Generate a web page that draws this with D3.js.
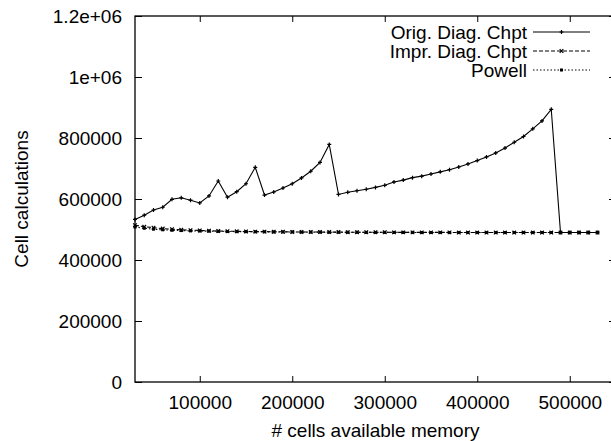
<!DOCTYPE html>
<html>
<head>
<meta charset="utf-8">
<script src="https://cdn.jsdelivr.net/npm/d3@7"></script>
<style>
  body { margin: 0; background: #fff; }
  svg { display: block; }
  text { font-family: "Liberation Sans", Arial, sans-serif; fill: #000; }
</style>
</head>
<body>
<div id="chart-area"></div>
<script>
// cells of available memory (x) for every run
const cells = [30000, 40000, 50000, 60000, 70000, 80000, 90000, 100000, 110000, 120000,
  130000, 140000, 150000, 160000, 170000, 180000, 190000, 200000, 210000, 220000,
  230000, 240000, 250000, 260000, 270000, 280000, 290000, 300000, 310000, 320000,
  330000, 340000, 350000, 360000, 370000, 380000, 390000, 400000, 410000, 420000,
  430000, 440000, 450000, 460000, 470000, 480000, 490000, 500000, 510000, 520000, 530000];

const origDiag = [533000, 547000, 564000, 573000, 599000, 604000, 596000, 587000, 610000, 659000,
  606000, 624000, 650000, 704000, 613000, 623000, 636000, 650000, 669000, 691000,
  720000, 779000, 615000, 622000, 627000, 632000, 638000, 645000, 656000, 662000,
  670000, 675000, 682000, 689000, 696000, 705000, 715000, 726000, 738000, 751000,
  767000, 786000, 805000, 830000, 856000, 894000, 490000, 490000, 490000, 490000, 490000];

const imprDiag = [514000, 509000, 506000, 503000, 501000, 499000, 498000, 497000, 496000, 495000,
  494500, 494000, 493500, 493000, 493000, 492500, 492500, 492000, 492000, 492000,
  491500, 491500, 491500, 491000, 491000, 491000, 491000, 491000, 490500, 490500,
  490500, 490500, 490500, 490500, 490500, 490000, 490000, 490000, 490000, 490000,
  490000, 490000, 490000, 490000, 490000, 490000, 490000, 490000, 490000, 490000, 490000];

const powell = [508000, 504000, 501000, 499000, 497500, 496500, 495500, 495000, 494500, 494000,
  493500, 493000, 493000, 492500, 492500, 492000, 492000, 492000, 491500, 491500,
  491500, 491000, 491000, 491000, 491000, 490500, 490500, 490500, 490500, 490500,
  490500, 490000, 490000, 490000, 490000, 490000, 490000, 490000, 490000, 490000,
  490000, 490000, 490000, 490000, 490000, 490000, 490000, 490000, 490000, 490000, 490000];

const seriesNames = ['Orig. Diag. Chpt', 'Impr. Diag. Chpt', 'Powell'];

const xTicks = [100000, 200000, 300000, 400000, 500000];
const yTicks = [0, 200000, 400000, 600000, 800000, 1000000, 1200000];
const yTickLabels = ['0', '200000', '400000', '600000', '800000', '1e+06', '1.2e+06'];

const W = 611, H = 441;
const MARGIN = { LEFT: 135, RIGHT: -5, TOP: 16, BOTTOM: 59 };
const WIDTH = W - MARGIN.LEFT - MARGIN.RIGHT;
const HEIGHT = H - MARGIN.TOP - MARGIN.BOTTOM;
const FONT = 19;

const svg = d3.select('#chart-area')
  .append('svg')
  .attr('width', W)
  .attr('height', H);

const g = svg.append('g')
  .attr('transform', `translate(${MARGIN.LEFT},${MARGIN.TOP})`);

const x = d3.scaleLinear().domain([30000, 550000]).range([0, WIDTH]);
const y = d3.scaleLinear().domain([0, 1200000]).range([HEIGHT, 0]);

// axes, gnuplot style: ticks point inwards, mirrored on top/right
const fmtY = d => yTickLabels[yTicks.indexOf(d)];

const styleAxis = sel => {
  sel.select('.domain').remove();
  sel.selectAll('line').attr('stroke', '#000').attr('stroke-width', 1);
  sel.selectAll('text').style('font-size', FONT + 'px').attr('fill', '#000');
};

g.append('g')
  .attr('transform', `translate(0,${HEIGHT})`)
  .call(d3.axisBottom(x).tickValues(xTicks).tickFormat(d3.format('d')).tickSize(-6).tickPadding(14))
  .call(styleAxis);

g.append('g')
  .call(d3.axisTop(x).tickValues(xTicks).tickFormat('').tickSize(-6))
  .call(styleAxis);

g.append('g')
  .call(d3.axisLeft(y).tickValues(yTicks).tickFormat(fmtY).tickSize(-7).tickPadding(13))
  .call(styleAxis);

g.append('g')
  .attr('transform', `translate(${WIDTH},0)`)
  .call(d3.axisRight(y).tickValues(yTicks).tickFormat('').tickSize(-7))
  .call(styleAxis);

// border
g.append('rect')
  .attr('width', WIDTH)
  .attr('height', HEIGHT)
  .attr('fill', 'none')
  .attr('stroke', '#000')
  .attr('stroke-width', 1.3);

// axis labels
g.append('text')
  .attr('x', WIDTH / 2)
  .attr('y', HEIGHT + 55)
  .attr('text-anchor', 'middle')
  .style('font-size', FONT + 'px')
  .text('# cells available memory');

g.append('text')
  .attr('transform', 'rotate(-90)')
  .attr('x', -HEIGHT / 2)
  .attr('y', -MARGIN.LEFT + 28)
  .attr('text-anchor', 'middle')
  .style('font-size', FONT + 'px')
  .text('Cell calculations');

// series
const series = [
  { name: seriesNames[0], values: origDiag, dash: null, mark: 'plus' },
  { name: seriesNames[1], values: imprDiag, dash: '4,2', mark: 'cross' },
  { name: seriesNames[2], values: powell, dash: '1.5,2', mark: 'square' }
];

const line = d3.line()
  .x(d => x(d[0]))
  .y(d => y(d[1]));

const drawMark = (sel, kind, cx, cy) => {
  if (kind === 'square') {
    sel.append('rect')
      .attr('x', cx - 1.5).attr('y', cy - 1.5)
      .attr('width', 3).attr('height', 3)
      .attr('fill', '#000');
  } else if (kind === 'cross') {
    sel.append('path')
      .attr('d', `M${cx - 1.8},${cy - 1.8}L${cx + 1.8},${cy + 1.8}M${cx - 1.8},${cy + 1.8}L${cx + 1.8},${cy - 1.8}`)
      .attr('stroke', '#000').attr('stroke-width', 1.2);
  } else {
    sel.append('path')
      .attr('d', `M${cx - 2},${cy}L${cx + 2},${cy}M${cx},${cy - 2}L${cx},${cy + 2}`)
      .attr('stroke', '#000').attr('stroke-width', 1.2);
  }
};

// draw back to front so the solid line sits on top
series.slice().reverse().forEach(s => {
  const pts = cells.map((c, i) => [c, s.values[i]]);
  const sg = g.append('g');
  sg.append('path')
    .datum(pts)
    .attr('d', line)
    .attr('fill', 'none')
    .attr('stroke', '#000')
    .attr('stroke-width', 1.1)
    .attr('stroke-dasharray', s.dash);
  pts.forEach(p => drawMark(sg, s.mark, x(p[0]), y(p[1])));
});

// legend
const legend = svg.append('g');
series.forEach((s, i) => {
  const ly = 32 + i * 19;
  legend.append('text')
    .attr('x', 527)
    .attr('y', ly)
    .attr('dy', '0.35em')
    .attr('text-anchor', 'end')
    .style('font-size', FONT + 'px')
    .text(s.name);
  legend.append('line')
    .attr('x1', 533).attr('x2', 590)
    .attr('y1', ly).attr('y2', ly)
    .attr('stroke', '#000')
    .attr('stroke-width', 1.1)
    .attr('stroke-dasharray', s.dash);
  drawMark(legend, s.mark, 561.5, ly);
});
</script>
</body>
</html>
